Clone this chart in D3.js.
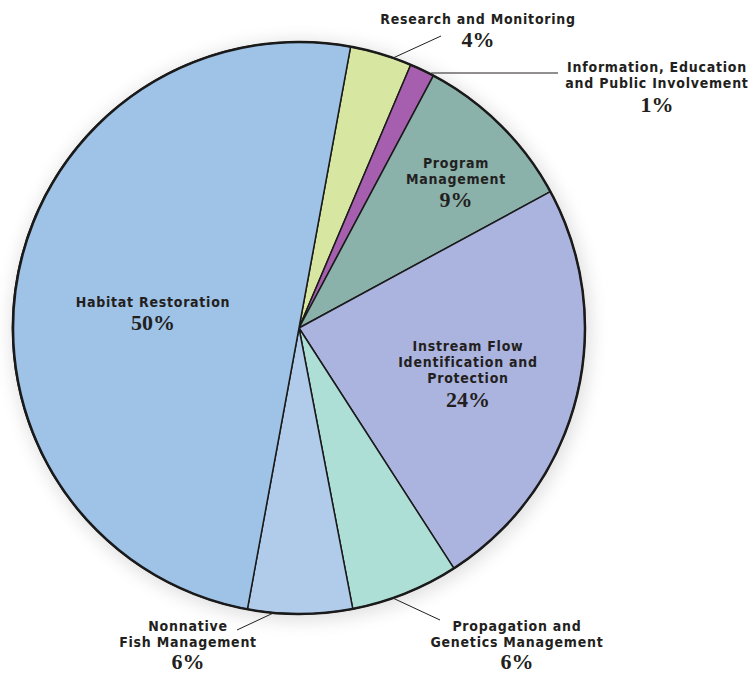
<!DOCTYPE html>
<html>
<head>
<meta charset="utf-8">
<script src="https://cdn.jsdelivr.net/npm/d3@7"></script>
<style>
  body { margin: 0; background: #fff; }
  svg { display: block; }
  .lbl { font-family: "DejaVu Sans Condensed", "DejaVu Sans", sans-serif; font-weight: bold; font-size: 14px; letter-spacing: 0.75px; fill: #231f20; }
  .pct { font-family: "Liberation Serif", serif; font-weight: bold; font-size: 22px; fill: #231f20; }
</style>
</head>
<body>
<div id="chart"></div>
<script>
// slices in clockwise order, starting from the top
var categories = ["Research and Monitoring", "Information, Education and Public Involvement",
  "Program Management", "Instream Flow Identification and Protection",
  "Propagation and Genetics Management", "Nonnative Fish Management", "Habitat Restoration"];
var values = [3.5, 1.4, 9.3, 23.8, 6.1, 5.9, 50];
var pctLabels = ["4%", "1%", "9%", "24%", "6%", "6%", "50%"];
var colors = ["#d7e6a0", "#a55fae", "#8bb1ab", "#abb3df", "#aedfd6", "#b1cbeb", "#9fc2e7"];

var width = 755, height = 675;
var cx = 299, cy = 328, R = 286;
var lineH = 16;

// label text lines + placement (layout only)
var labelLayout = [
  { lines: ["Research and Monitoring"], x: 478, y: 24, gap: 23, lead: 0.7, to: [441, 36] },
  { lines: ["Information, Education", "and Public Involvement"], x: 657, y: 72, gap: 24, lead: 0.9, to: [558, 73], flat: true },
  { lines: ["Program", "Management"], x: 456, y: 168, gap: 23 },
  { lines: ["Instream Flow", "Identification and", "Protection"], x: 468, y: 351, gap: 24 },
  { lines: ["Propagation and", "Genetics Management"], x: 517, y: 631, gap: 22, lead: 0.62, to: [440, 620] },
  { lines: ["Nonnative", "Fish Management"], x: 188, y: 631, gap: 22, lead: 0.75, to: [237, 630] },
  { lines: ["Habitat Restoration"], x: 153, y: 307, gap: 23 }
];

var svg = d3.select('#chart').append('svg')
  .attr('width', width)
  .attr('height', height);

var defs = svg.append('defs');
var blur = defs.append('filter').attr('id', 'shadow')
  .attr('x', '-20%').attr('y', '-20%').attr('width', '140%').attr('height', '140%');
blur.append('feGaussianBlur').attr('stdDeviation', 9);

svg.append('circle')
  .attr('cx', cx + 2).attr('cy', cy + 3).attr('r', R + 4)
  .attr('fill', '#000').attr('opacity', 0.12)
  .attr('filter', 'url(#shadow)');

var start = 10.4 * Math.PI / 180;
var pie = d3.pie().sort(null).value(d => d)
  .startAngle(start).endAngle(start + 2 * Math.PI);
var arcs = pie(values);

var arc = d3.arc().innerRadius(0).outerRadius(R);

var g = svg.append('g').attr('transform', 'translate(' + cx + ',' + cy + ')');

g.selectAll('path.slice')
  .data(arcs)
  .enter()
  .append('path')
  .attr('class', 'slice')
  .attr('d', arc)
  .attr('fill', (d, i) => colors[i])
  .attr('stroke', '#1a1a1a')
  .attr('stroke-width', 1.5)
  .attr('stroke-linejoin', 'round');

g.append('circle')
  .attr('r', R)
  .attr('fill', 'none')
  .attr('stroke', '#1a1a1a')
  .attr('stroke-width', 2.5);

// leader lines
arcs.forEach(function(d, i) {
  var L = labelLayout[i];
  if (L.lead == null) return;
  var a = d.startAngle + (d.endAngle - d.startAngle) * L.lead;
  var x0 = cx + R * Math.sin(a), y0 = cy - R * Math.cos(a);
  svg.append('line')
    .attr('x1', x0).attr('y1', L.flat ? L.to[1] : y0)
    .attr('x2', L.to[0]).attr('y2', L.to[1])
    .attr('stroke', '#231f20').attr('stroke-width', 1);
});

// labels
labelLayout.forEach(function(L, i) {
  var t = svg.append('g');
  L.lines.forEach(function(s, j) {
    t.append('text').attr('class', 'lbl')
      .attr('x', L.x).attr('y', L.y + j * lineH)
      .attr('text-anchor', 'middle')
      .text(s);
  });
  t.append('text').attr('class', 'pct')
    .attr('x', L.x).attr('y', L.y + (L.lines.length - 1) * lineH + L.gap)
    .attr('text-anchor', 'middle')
    .text(pctLabels[i]);
});
</script>
</body>
</html>
